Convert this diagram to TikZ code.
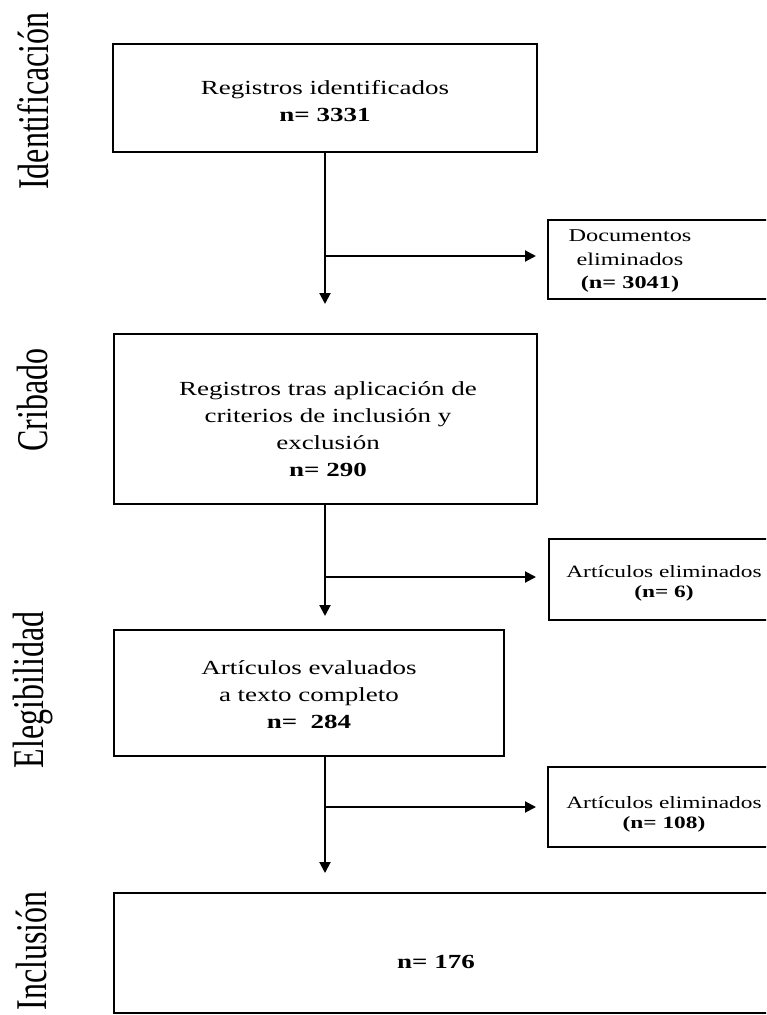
\documentclass[tikz,border=0pt]{standalone}
\usepackage{fontspec}
\setmainfont{Liberation Serif}
\newfontfamily\boxfont{Liberation Serif}[FakeStretch=1.35]
\usetikzlibrary{arrows.meta}
\tikzset{
  box/.style={draw=black, line width=2pt, inner sep=0pt, rectangle},
  bigtext/.style={align=center, inner sep=0pt, font=\boxfont\fontsize{20}{27}\selectfont},
  smalltext/.style={align=center, inner sep=0pt, font=\boxfont\fontsize{17.3}{20}\selectfont},
  phase/.style={rotate=90, inner sep=0pt, font=\fontsize{32}{32}\selectfont},
  arr/.style={line width=2pt, -{Triangle[length=11pt,width=11pt]}}
}
\begin{document}
\begin{tikzpicture}[x=1pt,y=-1pt]
\useasboundingbox (0,0) rectangle (766,1015);
\clip (0,0) rectangle (766,1015);
\fill[white] (0,0) rectangle (766,1015);

% phase labels
\node[phase] (lid) at (33,101) {\scalebox{1}[1.37]{Identificación}};
\node[phase] (lcr) at (33,400) {\scalebox{1}[1.37]{Cribado}};
\node[phase] (lel) at (33,690) {\scalebox{1}[1.37]{Elegibilidad}};
\node[phase] (lin) at (31,951) {\scalebox{1}[1.37]{Inclusión}};

% main boxes
\node[box, minimum width=424pt, minimum height=108pt] (b1) at (325,98) {};
\node[box, minimum width=423pt, minimum height=170pt] (b3) at (325,419) {};
\node[box, minimum width=390pt, minimum height=126pt] (b4) at (309,693) {};
\node[box, minimum width=686pt, minimum height=120pt] (b5) at (457,953) {};

% side boxes (cut by the right edge)
\node[box, minimum width=252pt, minimum height=79pt] (s1) at (674,259.5) {};
\node[box, minimum width=251pt, minimum height=81pt] (s2) at (674.5,579.5) {};
\node[box, minimum width=252pt, minimum height=80pt] (s3) at (674,807) {};

% texts
\node[bigtext] (t1) at (325,101) {Registros identificados\\\textbf{n= 3331}};
\node[bigtext] (t3) at (328,429) {Registros tras aplicación de\\criterios de inclusión y\\exclusión\\\textbf{n= 290}};
\node[bigtext] (t4) at (309,695) {Artículos evaluados\\a texto completo\\\textbf{n=\ \ 284}};
\node[bigtext] (t5) at (436,962) {\textbf{n= 176}};
\node[smalltext, font=\boxfont\fontsize{18}{23.5}\selectfont] (u1) at (630,261.5) {Documentos\\eliminados\\\textbf{(n= 3041)}};
\node[smalltext] (u2) at (664,583) {Artículos eliminados\\\textbf{(n= 6)}};
\node[smalltext] (u3) at (664,814) {Artículos eliminados\\\textbf{(n= 108)}};

% junctions
\coordinate (j1) at (325,256);
\coordinate (j2) at (325,577);
\coordinate (j3) at (325,807);

% connectors
\draw[arr, shorten >=29pt] (b1.south) -- (b3.north);
\draw[arr, shorten >=11pt] (j1) -- (s1.west |- j1);
\draw[arr, shorten >=13pt] (b3.south) -- (b3.south |- b4.north);
\draw[arr, shorten >=12pt] (j2) -- (s2.west |- j2);
\draw[arr, shorten >=19pt] (b4.south -| b1.south) -- (b5.north -| b1.south);
\draw[arr, shorten >=11pt] (j3) -- (s3.west |- j3);
\end{tikzpicture}
\end{document}
